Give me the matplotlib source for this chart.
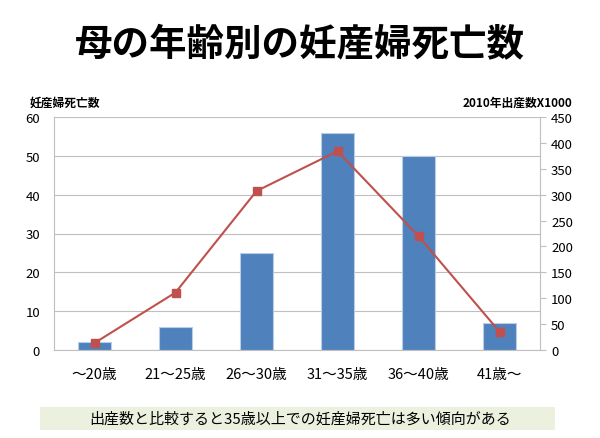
import matplotlib.pyplot as plt
from matplotlib.patches import Rectangle
import numpy as np

plt.rcParams['font.family'] = ['Noto Sans CJK JP', 'DejaVu Sans']

# データ
age_groups = ['～20歳', '21～25歳', '26～30歳', '31～35歳', '36～40歳', '41歳～']
deaths = [2, 6, 25, 56, 50, 7]
births_k = [13.5, 111, 307, 384, 220, 35.4]

fig = plt.figure(figsize=(6, 4.39), dpi=100)
ax = fig.add_axes([54/600, 1 - 351/439, (540-54)/600, (351-118)/439])
x = np.arange(len(age_groups))

ax.bar(x, deaths, width=0.4, color='#4F81BD', edgecolor='#B9CDE5', linewidth=0.8, zorder=2)
ax.set_ylim(0, 60)
ax.set_xlim(-0.5, len(age_groups) - 0.5)
ax.set_yticks(range(0, 61, 10))
ax.yaxis.grid(True, color='#BFBFBF', linewidth=0.8, zorder=0)
ax.set_axisbelow(True)
ax.set_xticks(x)
ax.set_xticklabels(age_groups, fontsize=10.5)
ax.tick_params(axis='x', length=0, pad=12)
ax.tick_params(axis='y', length=0, labelsize=9.5, pad=10)
for s in ['top', 'right']:
    ax.spines[s].set_visible(False)
for s in ['left', 'bottom']:
    ax.spines[s].set_color('#BFBFBF')

ax2 = ax.twinx()
ax2.plot(x, births_k, color='#C0504D', marker='s', markersize=5.5, linewidth=1.5, zorder=3)
ax2.set_ylim(0, 450)
ax2.set_yticks(range(0, 451, 50))
ax2.tick_params(axis='y', length=4, color='#BFBFBF', labelsize=9.5, pad=4)
for s in ['top', 'left', 'bottom']:
    ax2.spines[s].set_visible(False)
ax2.spines['right'].set_color('#BFBFBF')

fig.text(0.5, 1 - 45/439, '母の年齢別の妊産婦死亡数', ha='center', va='center',
         fontsize=27, fontweight='bold')
fig.text(30/600, 1 - 103/439, '妊産婦死亡数', ha='left', va='center',
         fontsize=8.5, fontweight='bold')
fig.text(572/600, 1 - 103/439, '2010年出産数X1000', ha='right', va='center',
         fontsize=8.5, fontweight='bold')

fig.patches.append(Rectangle((40/600, 1 - 431/439), 515/600, 23/439,
                             transform=fig.transFigure, facecolor='#EBF1DE',
                             edgecolor='none', zorder=0))
fig.text(0.5, 1 - 419/439, '出産数と比較すると35歳以上での妊産婦死亡は多い傾向がある',
         ha='center', va='center', fontsize=10.8)

fig.savefig('out.png', dpi=100)
